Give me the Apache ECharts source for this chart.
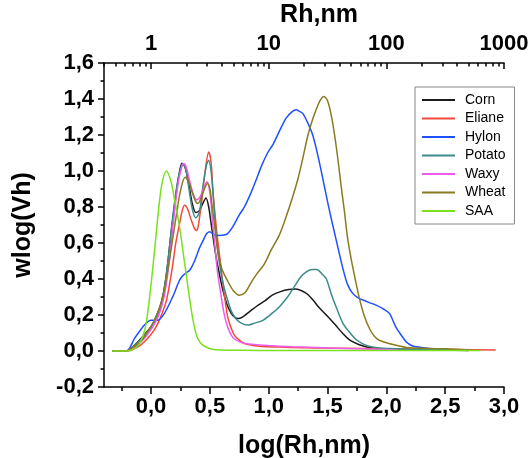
<!DOCTYPE html>
<html>
<head>
<meta charset="utf-8">
<script src="https://cdn.jsdelivr.net/npm/echarts@6/dist/echarts.min.js"></script>
<style>html,body{margin:0;padding:0;background:#fff;}#c{width:531px;height:458px;}</style>
</head>
<body>
<div id="c"></div>
<script>
// ---- data: [log(Rh,nm), wlog(Vh)] ----
const seriesNames = ['Corn', 'Eliane', 'Hylon', 'Potato', 'Waxy', 'Wheat', 'SAA'];
const bottomTicks = [0, 0.5, 1, 1.5, 2, 2.5, 3];
const bottomMinorTicks = [-0.25, 0.25, 0.75, 1.25, 1.75, 2.25, 2.75];
const topTicks = [0, 1, 2, 3];            // log10 of 1, 10, 100, 1000
const topMinorFactors = [2, 3, 4, 5, 6, 7, 8, 9];

const corn = [[-0.33,0],[-0.21,0],[-0.14,0.032],[-0.06,0.088],[0.0,0.135],[0.03,0.17],[0.085,0.264],[0.128,0.412],[0.17,0.654],[0.213,0.876],[0.24,0.99],[0.263,1.043],[0.29,1.02],[0.32,0.93],[0.35,0.82],[0.38,0.77],[0.41,0.78],[0.44,0.82],[0.467,0.85],[0.49,0.8],[0.51,0.71],[0.53,0.62],[0.552,0.524],[0.58,0.43],[0.61,0.338],[0.645,0.26],[0.68,0.21],[0.71,0.188],[0.74,0.18],[0.78,0.19],[0.84,0.22],[0.9,0.25],[0.97,0.28],[1.03,0.31],[1.1,0.33],[1.17,0.342],[1.23,0.344],[1.28,0.335],[1.33,0.315],[1.38,0.28],[1.43,0.24],[1.49,0.2],[1.56,0.15],[1.63,0.097],[1.69,0.06],[1.77,0.035],[1.85,0.02],[1.94,0.014],[2.1,0.01],[2.3,0.008],[2.5,0.005],[2.7,0.003]];
const eliane = [[-0.33,0],[-0.21,0],[-0.11,0.023],[-0.03,0.07],[0.03,0.12],[0.07,0.17],[0.13,0.28],[0.18,0.46],[0.21,0.6],[0.24,0.7],[0.265,0.78],[0.285,0.81],[0.31,0.79],[0.34,0.73],[0.37,0.68],[0.385,0.67],[0.4,0.69],[0.43,0.83],[0.46,1.0],[0.49,1.105],[0.51,1.05],[0.525,0.9],[0.545,0.75],[0.566,0.617],[0.59,0.49],[0.61,0.376],[0.63,0.28],[0.651,0.19],[0.68,0.13],[0.708,0.088],[0.75,0.06],[0.793,0.042],[0.87,0.03],[0.94,0.025],[1.09,0.022],[1.3,0.018],[1.5,0.016],[1.8,0.014],[2.0,0.012],[2.3,0.01],[2.6,0.008],[2.93,0.005]];
const hylon = [[-0.33,0],[-0.21,0],[-0.14,0.07],[-0.07,0.134],[0.0,0.171],[0.056,0.171],[0.113,0.209],[0.184,0.301],[0.24,0.39],[0.27,0.42],[0.3,0.435],[0.33,0.45],[0.37,0.5],[0.41,0.57],[0.44,0.61],[0.47,0.65],[0.496,0.663],[0.538,0.646],[0.58,0.642],[0.62,0.644],[0.65,0.652],[0.694,0.69],[0.75,0.756],[0.793,0.8],[0.85,0.88],[0.893,0.95],[0.94,1.03],[0.99,1.1],[1.034,1.145],[1.09,1.22],[1.148,1.294],[1.2,1.33],[1.233,1.34],[1.265,1.33],[1.289,1.32],[1.33,1.27],[1.374,1.2],[1.42,1.08],[1.459,0.96],[1.5,0.83],[1.544,0.7],[1.59,0.57],[1.63,0.459],[1.67,0.37],[1.714,0.32],[1.76,0.295],[1.8,0.283],[1.85,0.27],[1.913,0.255],[1.97,0.235],[2.026,0.209],[2.08,0.134],[2.13,0.085],[2.17,0.05],[2.21,0.032],[2.25,0.023],[2.37,0.014],[2.5,0.008],[2.7,0.004]];
const potato = [[-0.33,0],[-0.21,0],[-0.14,0.03],[-0.06,0.085],[0.0,0.13],[0.05,0.19],[0.1,0.3],[0.14,0.48],[0.18,0.72],[0.22,0.92],[0.25,1.01],[0.27,1.04],[0.295,1.01],[0.32,0.91],[0.35,0.79],[0.38,0.74],[0.41,0.77],[0.44,0.91],[0.47,1.03],[0.49,1.06],[0.51,1.0],[0.525,0.89],[0.552,0.654],[0.57,0.54],[0.595,0.431],[0.625,0.34],[0.651,0.283],[0.69,0.21],[0.737,0.168],[0.79,0.148],[0.83,0.145],[0.88,0.155],[0.95,0.17],[1.03,0.21],[1.09,0.245],[1.16,0.3],[1.22,0.36],[1.27,0.41],[1.32,0.44],[1.37,0.453],[1.41,0.453],[1.45,0.43],[1.49,0.4],[1.53,0.32],[1.57,0.25],[1.63,0.155],[1.68,0.11],[1.74,0.065],[1.8,0.04],[1.86,0.025],[1.94,0.017],[2.03,0.014],[2.2,0.01],[2.4,0.008],[2.7,0.004]];
const waxy = [[-0.33,0],[-0.21,0],[-0.13,0.025],[-0.05,0.075],[0.0,0.12],[0.06,0.19],[0.11,0.3],[0.15,0.47],[0.19,0.72],[0.23,0.93],[0.26,1.02],[0.28,1.04],[0.3,1.02],[0.33,0.94],[0.36,0.87],[0.39,0.84],[0.42,0.86],[0.45,0.91],[0.475,0.94],[0.5,0.88],[0.524,0.71],[0.545,0.57],[0.566,0.431],[0.59,0.33],[0.61,0.245],[0.63,0.18],[0.651,0.134],[0.68,0.09],[0.708,0.068],[0.75,0.052],[0.8,0.042],[0.9,0.035],[1.0,0.03],[1.2,0.024],[1.4,0.02],[1.66,0.014],[1.9,0.01],[2.1,0.006]];
const wheat = [[-0.33,0],[-0.21,0],[-0.17,0.014],[-0.1,0.045],[-0.057,0.078],[0.028,0.171],[0.1,0.3],[0.156,0.505],[0.213,0.746],[0.25,0.89],[0.29,0.965],[0.32,0.94],[0.35,0.88],[0.38,0.83],[0.4,0.82],[0.43,0.86],[0.46,0.91],[0.48,0.93],[0.5,0.9],[0.52,0.8],[0.54,0.7],[0.566,0.56],[0.6,0.46],[0.65,0.39],[0.7,0.335],[0.75,0.31],[0.8,0.325],[0.85,0.38],[0.9,0.43],[0.96,0.48],[1.02,0.56],[1.09,0.644],[1.15,0.75],[1.2,0.849],[1.25,0.96],[1.29,1.071],[1.33,1.19],[1.37,1.28],[1.403,1.34],[1.435,1.39],[1.468,1.414],[1.5,1.39],[1.531,1.312],[1.56,1.2],[1.587,1.071],[1.615,0.92],[1.644,0.774],[1.67,0.63],[1.7,0.515],[1.735,0.4],[1.771,0.292],[1.81,0.2],[1.856,0.125],[1.9,0.08],[1.94,0.06],[2.03,0.04],[2.17,0.02],[2.35,0.014],[2.5,0.012],[2.7,0.006]];
const saa = [[-0.33,0],[-0.2,0],[-0.15,0.01],[-0.11,0.03],[-0.07,0.08],[-0.04,0.16],[0.0,0.37],[0.03,0.56],[0.06,0.76],[0.09,0.92],[0.13,1.0],[0.17,0.94],[0.2,0.84],[0.24,0.7],[0.27,0.56],[0.3,0.42],[0.33,0.28],[0.36,0.16],[0.39,0.08],[0.42,0.045],[0.46,0.025],[0.52,0.01],[0.6,0.006],[0.8,0.004],[1.0,0.003],[1.5,0.003],[2.0,0.003],[2.5,0.003],[2.8,0.003]];

const seriesData = [corn, eliane, hylon, potato, waxy, wheat, saa];
const seriesColors = ['#1a1a1a', '#f04a3c', '#1f4fff', '#3d8a8a', '#ee5cee', '#8a7b1e', '#7ae020'];

const FONT = "'Liberation Sans', Arial, sans-serif";
const comma = v => (Math.abs(v) < 1e-9 ? 0 : v).toFixed(1).replace('.', ',');
const topMinor = [];
[-1, 0, 1, 2].forEach(d => topMinorFactors.forEach(f => {
  const v = d + Math.log10(f);
  if (v > -0.4 && v < 3) topMinor.push(v);
}));

const lab = { fontFamily: FONT, fontWeight: 'bold', fontSize: 22, color: '#000' };
const nameStyle = { fontFamily: FONT, fontWeight: 'bold', fontSize: 25, color: '#000' };
const axisLineStyle = { show: true, onZero: false, lineStyle: { color: '#000', width: 1.5 } };

const chart = echarts.init(document.getElementById('c'), null, { renderer: 'canvas' });
chart.setOption({
  animation: false,
  backgroundColor: '#fff',
  grid: { left: 104, right: 27, top: 63, bottom: 71, containLabel: false, outerBoundsMode: 'none' },
  legend: {
    orient: 'vertical',
    left: 415, top: 87,
    padding: [5, 9, 5, 7],
    borderColor: '#888', borderWidth: 1,
    itemWidth: 33, itemHeight: 2, itemGap: 2.5,
    icon: 'rect',
    textStyle: { fontFamily: FONT, fontSize: 14, color: '#000', lineHeight: 16, padding: [0, 0, 0, 5] },
    data: seriesNames
  },
  xAxis: [
    {
      type: 'value', position: 'bottom', min: -0.4, max: 3,
      axisLine: axisLineStyle,
      axisTick: { show: true, inside: false, length: 7, customValues: bottomTicks, lineStyle: { color: '#000', width: 1.5 } },
      axisLabel: Object.assign({ margin: 9, customValues: bottomTicks, formatter: comma }, lab),
      splitLine: { show: false },
      name: 'log(Rh,nm)', nameLocation: 'middle', nameGap: 47,
      nameTextStyle: nameStyle
    },
    {
      type: 'value', position: 'bottom', min: -0.4, max: 3,
      axisLine: { show: false, onZero: false },
      axisTick: { show: true, inside: false, length: 4, customValues: bottomMinorTicks, lineStyle: { color: '#000', width: 1.5 } },
      axisLabel: { show: false }, splitLine: { show: false }
    },
    {
      type: 'value', position: 'top', min: -0.4, max: 3,
      axisLine: axisLineStyle,
      axisTick: { show: true, inside: true, length: 6, customValues: topTicks, lineStyle: { color: '#000', width: 1.5 } },
      axisLabel: Object.assign({ margin: 8, customValues: topTicks, formatter: v => String(Math.round(Math.pow(10, v))) }, lab),
      splitLine: { show: false },
      name: 'Rh,nm', nameLocation: 'middle', nameGap: 30,
      nameTextStyle: Object.assign({ padding: [0, 0, 0, 30] }, nameStyle)
    },
    {
      type: 'value', position: 'top', min: -0.4, max: 3,
      axisLine: { show: false, onZero: false },
      axisTick: { show: true, inside: true, length: 3.5, customValues: topMinor, lineStyle: { color: '#000', width: 1.5 } },
      axisLabel: { show: false }, splitLine: { show: false }
    }
  ],
  yAxis: {
    type: 'value', min: -0.2, max: 1.6, interval: 0.2,
    axisLine: axisLineStyle,
    axisTick: { show: true, inside: false, length: 6, lineStyle: { color: '#000', width: 1.5 } },
    minorTick: { show: true, splitNumber: 2, length: 3.5, lineStyle: { color: '#000', width: 1.5 } },
    axisLabel: Object.assign({ margin: 10, formatter: comma }, lab),
    splitLine: { show: false },
    name: 'wlog(Vh)', nameLocation: 'middle', nameRotate: 90, nameGap: 68,
    nameTextStyle: nameStyle
  },
  series: seriesNames.map((n, i) => ({
    name: n, type: 'line', xAxisIndex: 0, yAxisIndex: 0,
    data: seriesData[i],
    showSymbol: false, symbol: 'none',
    smooth: 0.3,
    color: seriesColors[i],
    lineStyle: { color: seriesColors[i], width: 1.5 },
    itemStyle: { color: seriesColors[i] }
  }))
});
</script>
</body>
</html>
